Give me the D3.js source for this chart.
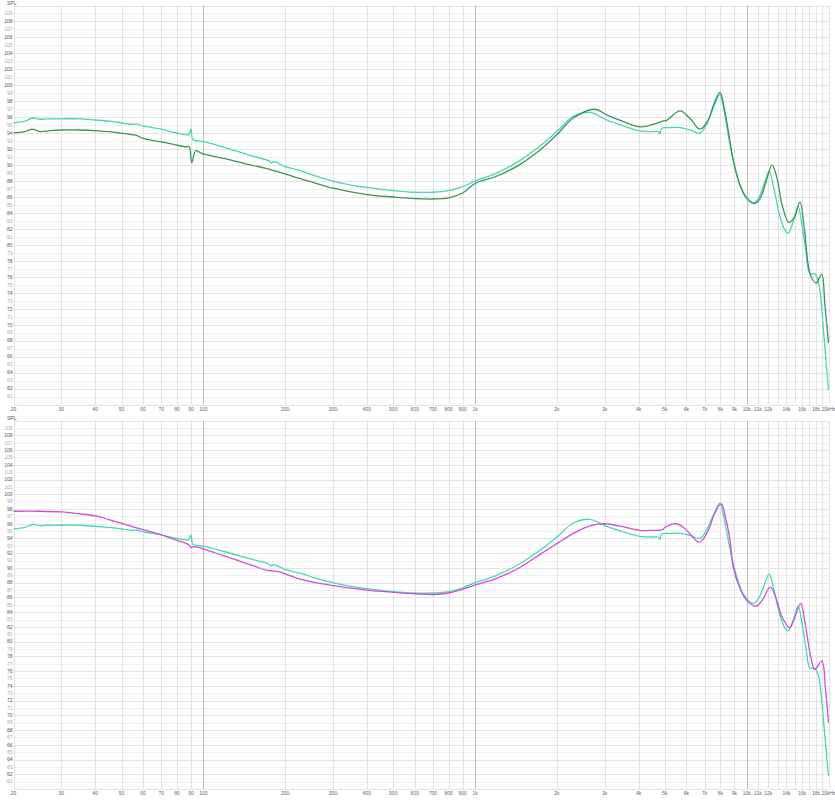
<!DOCTYPE html>
<html>
<head>
<meta charset="utf-8">
<script src="https://cdn.jsdelivr.net/npm/d3@7"></script>
<style>
body{margin:0;background:#fff}
svg{display:block}
text{font-family:"Liberation Sans",Arial,sans-serif}
</style>
</head>
<body>
<svg id="fr" width="835" height="800"></svg>
<script>

/* 目标曲线 (两张图共用的青色线) */
const teal_freq = [20,22,23.6,25,27,30,35,40,45,50,55,57,59,65,70,80,86.5,88.5,90,91.5,95,100,120,150,175,178,181,200,227,250,300,350,400,500,600,700,800,900,1000,1200,1450,1734,2000,2300,2650,3050,3520,4050,4500,4720,4800,4850,5200,5700,6200,6730,7200,7600,7960,8300,8600,8920,9500,10000,10570,11000,11500,12100,12600,13200,13800,14200,14800,15470,16000,16500,17100,17800,18200,18600,19300,20000]
const teal_spl  = [95.3,95.5,95.9,95.75,95.8,95.8,95.8,95.65,95.5,95.3,95.1,95.15,94.95,94.7,94.5,94.0,93.8,93.85,94.5,93.2,93.05,92.95,92.2,91.2,90.5,90.25,90.45,89.8,89.3,88.8,88.0,87.5,87.2,86.8,86.6,86.6,86.8,87.3,88.0,89.0,90.5,92.4,94.2,96.1,96.6,95.65,94.9,94.3,94.2,94.2,93.9,94.6,94.7,94.7,94.4,94.0,95.5,97.5,98.8,96.3,93.3,90.6,87.2,85.8,85.2,85.7,87.3,89.2,87.0,83.8,81.9,81.45,82.8,84.8,82.3,79.3,76.4,76.4,75.8,74.3,68.0,61.8]

/* 第一张图: 深绿色线 */
const green_freq = [20,22,23.5,25,27,30,35,41,45,50,55,57,60,70,80,86,88.6,90.6,93.7,97.5,100,120,150,170,200,217,250,300,400,500,600,700,800,900,1000,1200,1450,1734,2000,2300,2760,3050,3520,4050,4720,4900,5070,5680,6200,6730,7200,7600,7970,8300,8600,8920,9500,10000,10700,11200,11800,12400,12900,13500,14300,15000,15700,16300,17100,17980,18870,19400,20000]
const green_spl  = [94.05,94.2,94.5,94.2,94.3,94.4,94.4,94.3,94.2,94.0,93.8,93.7,93.35,92.9,92.5,92.3,92.3,90.3,91.8,91.55,91.4,90.8,90.0,89.6,88.9,88.5,87.9,87.1,86.3,86.0,85.8,85.75,85.9,86.5,87.7,88.6,90.0,91.9,93.8,95.9,97.0,96.3,95.45,94.8,95.3,95.5,95.6,96.8,95.8,94.5,95.6,97.8,99.1,96.8,93.8,90.6,87.3,85.9,85.2,85.8,88.0,90.0,88.5,85.0,82.8,83.5,85.4,82.0,76.4,75.2,76.3,72.5,67.7]

/* 第二张图: 紫红色线 */
const magenta_freq = [20,25,30,35,41,45,50,60,70,80,87,89,90.5,92,100,120,150,170,180,190,200,227,300,400,500,600,700,800,900,1000,1200,1450,1734,2000,2300,2700,3000,3500,4050,4500,4900,5000,5500,5900,6700,7200,7600,8050,8400,8700,8920,9500,10000,10800,11400,12200,12800,13500,14400,15000,15800,16400,17200,17800,18900,19500,20000]
const magenta_spl  = [97.7,97.7,97.6,97.35,97.0,96.55,96.05,95.2,94.5,93.75,93.3,93.0,92.75,92.9,92.6,91.6,90.4,89.7,89.6,89.5,89.2,88.5,87.6,87.0,86.7,86.5,86.4,86.6,87.1,87.7,88.6,90.0,91.85,93.3,94.7,95.8,96.0,95.6,95.1,95.1,95.2,95.5,96.0,95.4,93.5,95.0,97.3,98.7,96.5,93.5,90.1,87.0,85.6,84.8,85.6,87.4,86.0,83.3,81.9,83.2,85.2,82.5,78.0,76.2,77.4,73.5,69.0]

/* 坐标轴刻度 */
const x_ticks = [20,30,40,50,60,70,80,90,100,200,300,400,500,600,700,800,900,1000,2000,3000,4000,5000,6000,7000,8000,9000,10000,11000,12000,13000,14000,15000,16000,17000,18000,19000,20000]
const x_tick_labels = ['20','30','40','50','60','70','80','90','100','200','300','400','500','600','700','800','900','1k','2k','3k','4k','5k','6k','7k','8k','9k','10k','11k','12k','','14k','','16k','','18k','','20kHz']
const y_ticks = d3.range(61, 110)


const svg = d3.select('#fr')

const color_teal = '#45d8b2', color_green = '#3c9552', color_magenta = '#cf4fd4'

/* x 为对数坐标, 两张图一样 */
const x = d3.scaleLog().domain([20, 20000]).range([13.5, 828.5])

const panels = [
    {top: 5.5, bottom: 404.5, lines: [[teal_freq, teal_spl, color_teal], [green_freq, green_spl, color_green]]},
    {top: 420.6, bottom: 789, lines: [[teal_freq, teal_spl, color_teal], [magenta_freq, magenta_spl, color_magenta]]}
]

panels.forEach((p, k) => {

    const y = d3.scaleLinear().domain([60, 110]).range([p.bottom, p.top])
    const g = svg.append('g').classed(`panel_${k}`, true)

    /* 横向网格 每 1dB 一条 */
    g.append('g')
        .selectAll('line')
        .data(d3.range(60, 111))
        .join('line')
        .attr('x1', x(20))
        .attr('x2', x(20000))
        .attr('y1', d => Math.round(y(d)) + 0.5)
        .attr('y2', d => Math.round(y(d)) + 0.5)
        .attr('stroke', d => d % 2 == 0 ? '#e3e3e3' : '#f0f0f0')
        .attr('stroke-width', 1)

    /* 竖向网格, 100 1k 10k 颜色深一些 */
    g.append('g')
        .selectAll('line')
        .data(x_ticks)
        .join('line')
        .attr('x1', d => Math.round(x(d)) + 0.5)
        .attr('x2', d => Math.round(x(d)) + 0.5)
        .attr('y1', y(110))
        .attr('y2', y(60))
        .attr('stroke', d => [100, 1000, 10000].includes(d) ? '#bdbdbd' : '#e2e2e2')
        .attr('stroke-width', 1)

    /* 左边框 */
    g.append('line')
        .attr('x1', Math.round(x(20)) + 0.5).attr('x2', Math.round(x(20)) + 0.5)
        .attr('y1', y(110)).attr('y2', y(60))
        .attr('stroke', '#e2e2e2')

    /* y 轴 label, 偶数深色 奇数浅色 */
    g.append('g')
        .selectAll('text')
        .data(y_ticks)
        .join('text')
        .attr('x', 12.5)
        .attr('y', d => y(d) + 1.8)
        .attr('text-anchor', 'end')
        .style('font-size', '5px')
        .attr('fill', d => d % 2 == 0 ? '#555' : '#aaa')
        .text(d => d)

    g.append('text')
        .attr('x', 7)
        .attr('y', p.top - 0.5)
        .style('font-size', '5px')
        .attr('fill', '#555')
        .text('SPL')

    /* x 轴 label */
    g.append('g')
        .selectAll('text')
        .data(x_ticks.map((d, i) => [d, x_tick_labels[i]]).filter(d => d[1] != ''))
        .join('text')
        .attr('x', d => x(d[0]))
        .attr('y', p.bottom + 6)
        .attr('text-anchor', 'middle')
        .style('font-size', '5px')
        .attr('fill', '#666')
        .text(d => d[1])

    /* 曲线 */
    const line = d3.line()
        .x(d => x(d[0]))
        .y(d => y(d[1]))
        .curve(d3.curveCatmullRom.alpha(0.5))

    g.append('g')
        .selectAll('path')
        .data(p.lines)
        .join('path')
        .attr('d', d => line(d[0].map((f, i) => [f, d[1][i]])))
        .attr('fill', 'none')
        .attr('stroke', d => d[2])
        .attr('stroke-width', 1.3)
        .attr('stroke-linejoin', 'round')
})

</script>
</body>
</html>
